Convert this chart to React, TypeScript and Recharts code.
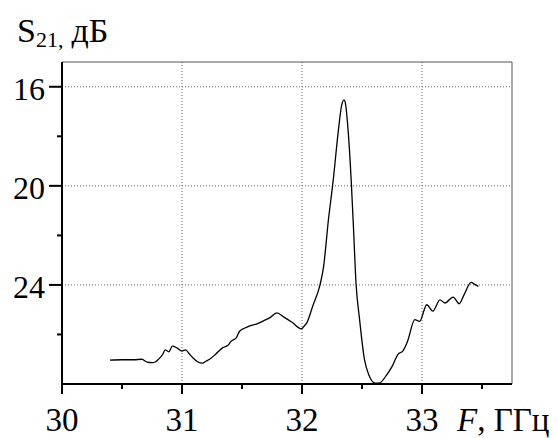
import { LineChart, Line, XAxis, YAxis, ReferenceLine } from "recharts";

const freq = [
  30.4, 30.5, 30.6, 30.665, 30.71, 30.75, 30.78, 30.8, 30.84, 30.86, 30.89, 30.92, 30.96, 31.0,
  31.03, 31.06, 31.09, 31.13, 31.17, 31.2, 31.23, 31.28, 31.34, 31.38, 31.41, 31.45, 31.48,
  31.52, 31.57, 31.62, 31.68, 31.73, 31.79, 31.85, 31.92, 31.995, 32.02, 32.04, 32.09, 32.15,
  32.18, 32.22, 32.26, 32.3, 32.33, 32.35, 32.36, 32.38, 32.41, 32.43, 32.45, 32.48, 32.52,
  32.56, 32.61, 32.65, 32.7, 32.75, 32.8, 32.84, 32.88, 32.94, 32.98, 33.04, 33.09, 33.15,
  33.19, 33.26, 33.31, 33.35, 33.41, 33.44, 33.47,
];
const s21 = [
  27.04, 27.02, 27.02, 27.0, 27.12, 27.14, 27.1, 27.02, 26.8, 26.62, 26.7, 26.47, 26.55, 26.67,
  26.62, 26.78, 26.94, 27.1, 27.16, 27.08, 27.0, 26.8, 26.53, 26.45, 26.27, 26.15, 25.87,
  25.75, 25.64, 25.58, 25.45, 25.33, 25.13, 25.3, 25.52, 25.77, 25.65, 25.53, 24.85, 24.0,
  23.26, 21.38, 19.78, 17.9, 16.76, 16.53, 16.62, 17.5, 19.78, 21.8, 23.92, 25.4, 27.0,
  27.67, 27.97, 27.95, 27.67, 27.3, 26.8, 26.67, 26.27, 25.4, 25.47, 24.8, 25.06, 24.6,
  24.73, 24.49, 24.76, 24.4, 23.9, 23.98, 24.06,
];

const xTicks = [30, 30.5, 31, 31.5, 32, 32.5, 33, 33.5];
const xLabels = [30, 31, 32, 33];
const yTicks = [16, 18, 20, 22, 24, 26];
const yLabels = [16, 20, 24];
const gridX = [31, 32, 33];
const gridY = [16, 20, 24];

const data = freq.map((f, i) => ({ f, v: s21[i] }));

const FONT = "'Liberation Serif', 'Times New Roman', serif";

const XTick = (props: any) => {
  const { x, y, payload } = props;
  const major = xLabels.includes(payload.value);
  return (
    <g>
      <line x1={x} y1={y} x2={x} y2={y + (major ? 10 : 5)} stroke="#000" strokeWidth={2} />
      {major && (
        <text x={x} y={y + 47} textAnchor="middle" fontSize={33} fontFamily={FONT} fill="#000">
          {payload.value}
        </text>
      )}
    </g>
  );
};

const YTick = (props: any) => {
  const { x, y, payload } = props;
  const major = yLabels.includes(payload.value);
  return (
    <g>
      <line x1={x} y1={y} x2={x - (major ? 13 : 5)} y2={y} stroke="#000" strokeWidth={2} />
      {major && (
        <text x={x - 17} y={y + 13} textAnchor="end" fontSize={32} fontFamily={FONT} fill="#000">
          {payload.value}
        </text>
      )}
    </g>
  );
};

export default function App() {
  return (
    <div style={{ position: "absolute", left: 0, top: 0, width: 558, height: 438, background: "#fff" }}>
      <LineChart width={558} height={438} data={data} margin={{ top: 62, right: 46, left: 0, bottom: 0 }}>
        <XAxis
          dataKey="f"
          type="number"
          domain={[30, 33.75]}
          ticks={xTicks}
          interval={0}
          tick={<XTick />}
          tickLine={false}
          tickSize={0}
          tickMargin={0}
          height={54}
          axisLine={{ stroke: "#000", strokeWidth: 2 }}
          allowDataOverflow
        />
        <YAxis
          type="number"
          domain={[15, 28]}
          reversed
          ticks={yTicks}
          interval={0}
          tick={<YTick />}
          tickLine={false}
          tickSize={0}
          tickMargin={0}
          width={62}
          axisLine={{ stroke: "#000", strokeWidth: 2 }}
          allowDataOverflow
        />
        {gridY.map((g) => (
          <ReferenceLine key={"gy" + g} y={g} stroke="#666" strokeDasharray="1 2" />
        ))}
        {gridX.map((g) => (
          <ReferenceLine key={"gx" + g} x={g} stroke="#666" strokeDasharray="1 2" />
        ))}
        <ReferenceLine y={15} stroke="#555" strokeWidth={1} />
        <ReferenceLine x={33.75} stroke="#555" strokeWidth={1} />
        <Line
          dataKey="v"
          type="monotone"
          stroke="#000"
          strokeWidth={1.3}
          dot={false}
          isAnimationActive={false}
        />
      </LineChart>
      <svg
        width={558}
        height={438}
        style={{ position: "absolute", left: 0, top: 0, pointerEvents: "none" }}
      >
        <text x={17} y={42} fontSize={34} fontFamily={FONT} fill="#000">
          S
          <tspan fontSize={22} dy={5}>21,</tspan>
          <tspan dy={-5} dx={8}>дБ</tspan>
        </text>
        <text x={457} y={431} fontSize={33} fontFamily={FONT} fill="#000">
          <tspan fontStyle="italic">F</tspan>, ГГц
        </text>
      </svg>
    </div>
  );
}
